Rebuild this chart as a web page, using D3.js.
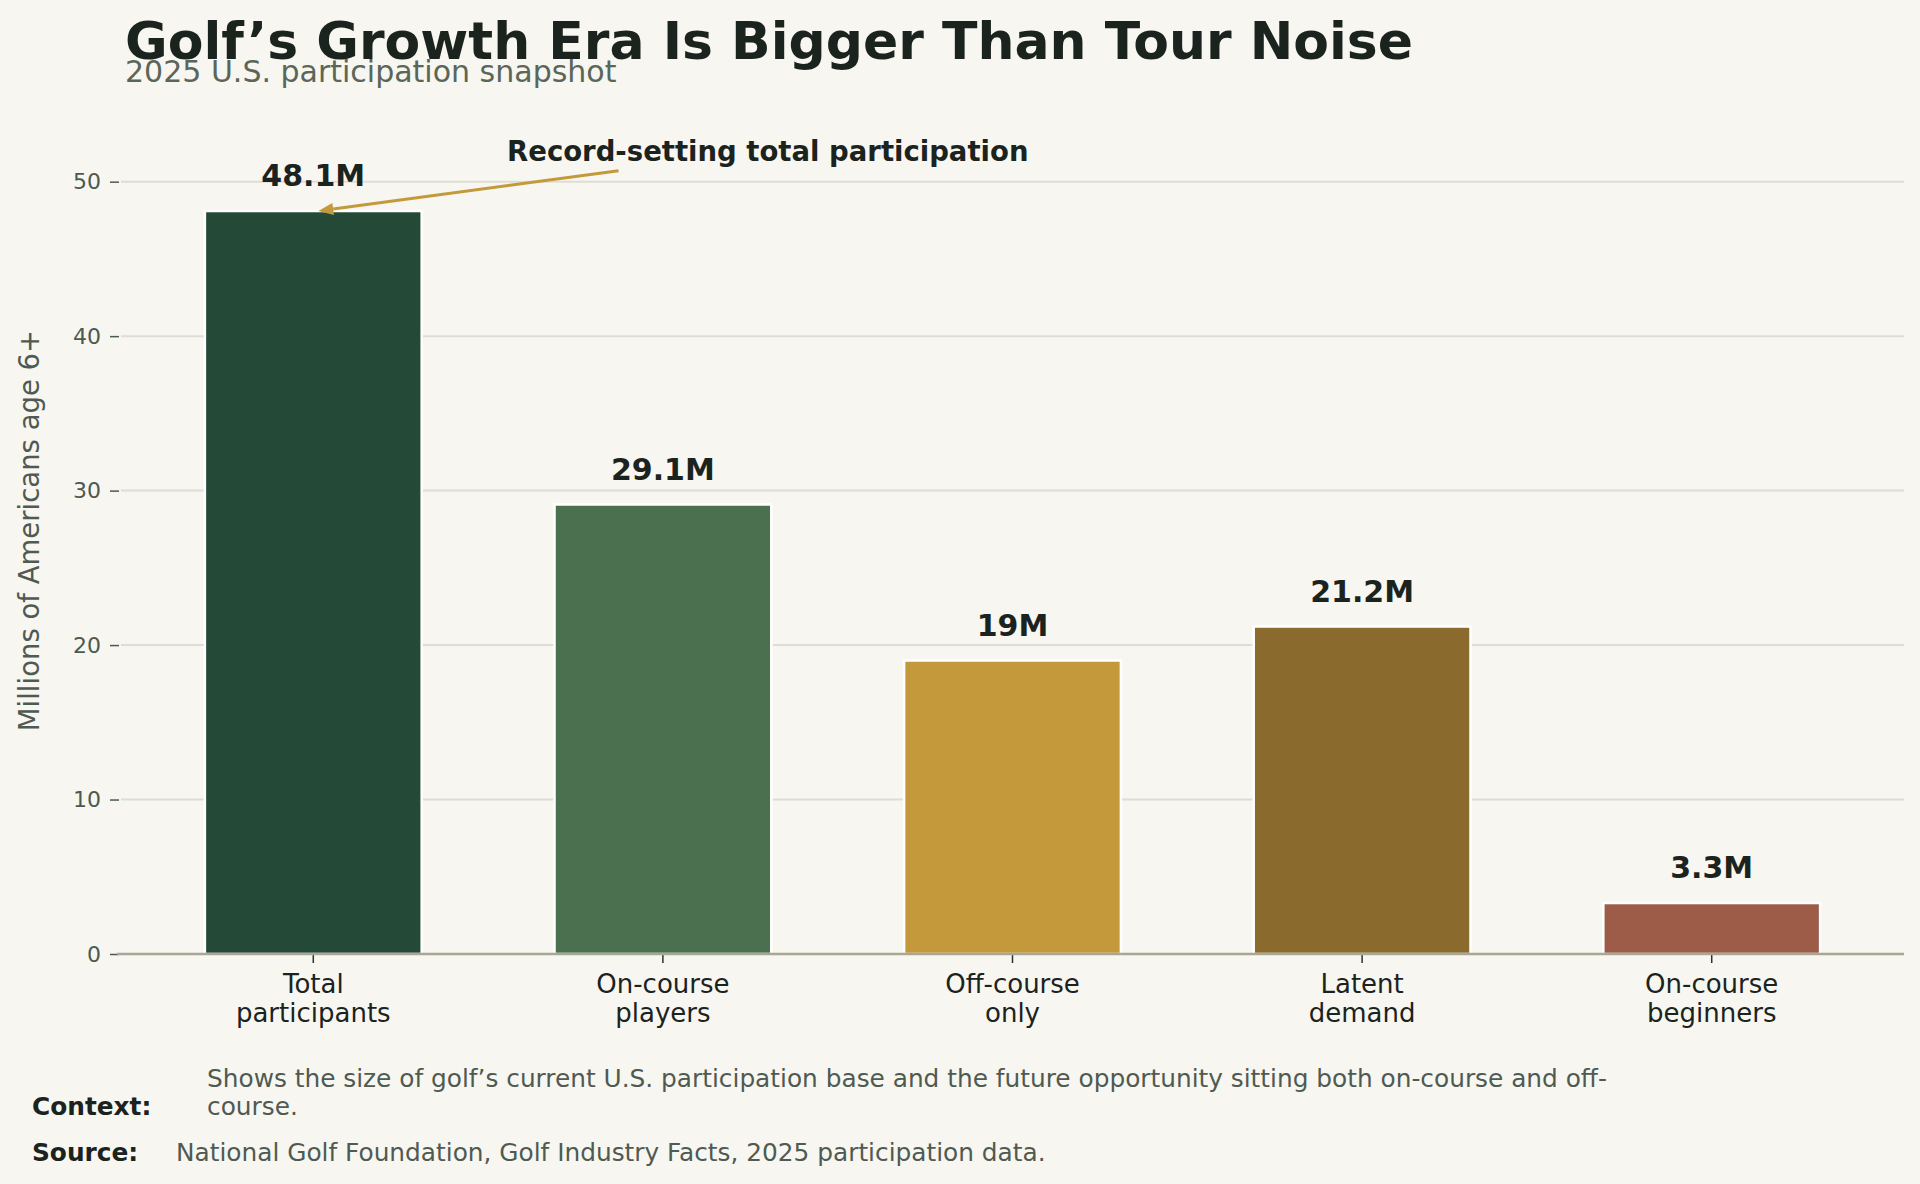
<!DOCTYPE html>
<html>
<head>
<meta charset="utf-8">
<script src="https://cdn.jsdelivr.net/npm/d3@7"></script>
<style>
  html, body { margin: 0; padding: 0; background: #f7f6f0; }
  svg { display: block; font-family: "DejaVu Sans", sans-serif; }
  svg text { font-family: "DejaVu Sans", sans-serif; }
</style>
</head>
<body>
<svg id="chart" width="1920" height="1184"></svg>
<script>
// data
const categories = [["Total", "participants"], ["On-course", "players"], ["Off-course", "only"], ["Latent", "demand"], ["On-course", "beginners"]];
const values = [48.1, 29.1, 19, 21.2, 3.3];
const valueLabels = ["48.1M", "29.1M", "19M", "21.2M", "3.3M"];
const barColors = ["#244a37", "#4a7050", "#c4993b", "#8a6b2d", "#9c5c48"];
const yTicks = [0, 10, 20, 30, 40, 50];

const svg = d3.select("#chart"),
    width = +svg.attr("width"),
    height = +svg.attr("height");

const margin = {top: 107, right: 16, bottom: 230, left: 121};
const plotBottom = height - margin.bottom;

svg.append("rect").attr("width", width).attr("height", height).attr("fill", "#f7f6f0");

let x = d3.scaleBand()
    .domain(d3.range(values.length))
    .range([margin.left, width - margin.right])
    .paddingInner(0.38)
    .paddingOuter(0.24);

let y = d3.scaleLinear()
    .domain([0, d3.max(values) * 1.14])
    .range([plotBottom, margin.top]);

// grid
svg.append("g").selectAll("line")
  .data(yTicks.filter(d => d > 0))
  .enter().append("line")
    .attr("x1", margin.left).attr("x2", width - margin.right)
    .attr("y1", d => y(d)).attr("y2", d => y(d))
    .attr("stroke", "#dfddd3").attr("stroke-width", 2);

// y axis
let yAxis = svg.append("g")
    .attr("transform", "translate(" + (margin.left - 2) + ",0)")
    .call(d3.axisLeft(y).tickValues(yTicks).tickSize(9).tickPadding(9));
yAxis.attr("font-family", null);
yAxis.select(".domain").remove();
yAxis.selectAll(".tick line").attr("stroke", "#4b5a50").attr("stroke-width", 1.5);
yAxis.selectAll(".tick text")
    .attr("fill", "#4b5a50")
    .style("font-size", "22px");

// bars
svg.append("g").selectAll("rect")
  .data(values)
  .enter().append("rect")
    .attr("x", (d, i) => x(i))
    .attr("y", d => y(d))
    .attr("width", x.bandwidth())
    .attr("height", d => y(0) - y(d))
    .attr("fill", (d, i) => barColors[i])
    .attr("stroke", "#ffffff")
    .attr("stroke-width", 2.5);

// value labels
svg.append("g").selectAll("text")
  .data(values)
  .enter().append("text")
    .attr("x", (d, i) => x(i) + x.bandwidth() / 2)
    .attr("y", d => y(d) - 25)
    .attr("text-anchor", "middle")
    .attr("fill", "#1b231e")
    .style("font-size", "30px")
    .style("font-weight", "bold")
    .text((d, i) => valueLabels[i]);

// x axis
let xAxis = svg.append("g")
    .attr("transform", "translate(0," + plotBottom + ")")
    .call(d3.axisBottom(x).tickSize(9).tickPadding(6).tickFormat(""));
xAxis.attr("font-family", null);
xAxis.select(".domain").remove();
xAxis.selectAll(".tick line").attr("stroke", "#2a322c").attr("stroke-width", 1.5);
xAxis.selectAll(".tick").each(function(d) {
  let t = d3.select(this).append("text")
      .attr("fill", "#1b231e")
      .attr("text-anchor", "middle")
      .style("font-size", "26px");
  categories[d].forEach(function(line, j) {
    t.append("tspan").attr("x", 0).attr("y", 39 + j * 29).text(line);
  });
});

svg.append("line")
    .attr("x1", margin.left - 4).attr("x2", width - margin.right)
    .attr("y1", plotBottom).attr("y2", plotBottom)
    .attr("stroke", "#a8a694").attr("stroke-width", 2.5);

// y label
svg.append("text")
    .attr("transform", "translate(39," + (margin.top + plotBottom) / 2 + ") rotate(-90)")
    .attr("text-anchor", "middle")
    .attr("fill", "#4f5a52")
    .style("font-size", "27.5px")
    .text("Millions of Americans age 6+");

// annotation
const note = {text: "Record-setting total participation", x: 1.3, y: 52, target: 0};
let cx = x(0) + x.bandwidth() / 2 + (x(1) - x(0)) * note.x,
    cy = y(note.y),
    tx = x(note.target) + x.bandwidth() / 2 + 5,
    ty = y(values[note.target]);
let t0 = 20 / (ty - cy),
    sx = cx + (tx - cx) * t0,
    sy = cy + 20;
let ang = Math.atan2(ty - sy, tx - sx),
    hl = 15, hw = 6;
let bx = tx - hl * Math.cos(ang), by = ty - hl * Math.sin(ang);
svg.append("line")
    .attr("x1", sx).attr("y1", sy).attr("x2", bx).attr("y2", by)
    .attr("stroke", "#c4993b").attr("stroke-width", 3);
svg.append("path")
    .attr("d", d3.line()([
      [tx, ty],
      [bx + hw * Math.sin(ang), by - hw * Math.cos(ang)],
      [bx - hw * Math.sin(ang), by + hw * Math.cos(ang)]
    ]) + "Z")
    .attr("fill", "#c4993b");
svg.append("text")
    .attr("x", cx).attr("y", cy)
    .attr("text-anchor", "middle")
    .attr("dominant-baseline", "central")
    .attr("fill", "#1b231e")
    .style("font-size", "27.5px")
    .style("font-weight", "bold")
    .text(note.text);

// titles
svg.append("text")
    .attr("x", 125).attr("y", 59)
    .attr("fill", "#1b231e")
    .style("font-size", "52px")
    .style("font-weight", "bold")
    .text("Golf\u2019s Growth Era Is Bigger Than Tour Noise");
svg.append("text")
    .attr("x", 125).attr("y", 82)
    .attr("fill", "#5b6659")
    .style("font-size", "30px")
    .text("2025 U.S. participation snapshot");

// footer
const footer = [
  {label: "Context:", lines: ["Shows the size of golf\u2019s current U.S. participation base and the future opportunity sitting both on-course and off-", "course."], tx: 207, y: 1115},
  {label: "Source:", lines: ["National Golf Foundation, Golf Industry Facts, 2025 participation data."], tx: 176, y: 1161}
];
footer.forEach(function(f) {
  svg.append("text")
      .attr("x", 32).attr("y", f.y)
      .attr("fill", "#1b231e")
      .style("font-size", "24.8px")
      .style("font-weight", "bold")
      .text(f.label);
  let n = f.lines.length;
  f.lines.forEach(function(line, j) {
    svg.append("text")
        .attr("x", f.tx).attr("y", f.y - (n - 1 - j) * 28)
        .attr("fill", "#4f5a52")
        .style("font-size", "24.8px")
        .text(line);
  });
});
</script>
</body>
</html>
